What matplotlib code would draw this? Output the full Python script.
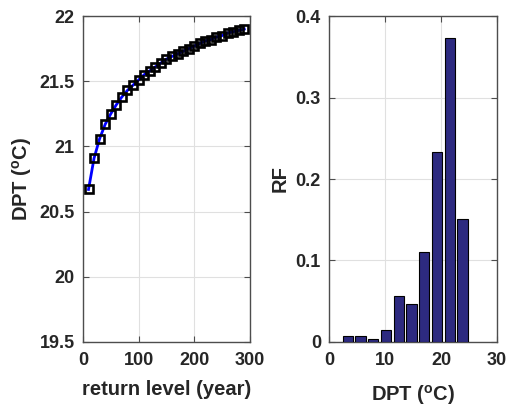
import matplotlib
matplotlib.use("Agg")
import matplotlib.pyplot as plt

# Left panel: return level curve
return_period = [10, 20, 30, 40, 50, 60, 70, 80, 90, 100, 110, 120, 130, 140, 150,
                 160, 170, 180, 190, 200, 210, 220, 230, 240, 250, 260, 270, 280, 290]
dpt_return = [20.67, 20.91, 21.06, 21.17, 21.25, 21.32, 21.38, 21.43, 21.47, 21.51,
              21.55, 21.58, 21.61, 21.64, 21.67, 21.69, 21.71, 21.73, 21.75, 21.77,
              21.79, 21.81, 21.82, 21.84, 21.85, 21.87, 21.88, 21.89, 21.90]

# Right panel: histogram of DPT (relative frequency)
bin_centers = [3.30, 5.58, 7.86, 10.14, 12.42, 14.70, 16.98, 19.26, 21.54, 23.82]
rel_freq = [0.0079, 0.0079, 0.0042, 0.0144, 0.057, 0.0466, 0.110, 0.233, 0.373, 0.151]

left_xticks = [0, 100, 200, 300]
left_yticks = [19.5, 20, 20.5, 21, 21.5, 22]
left_yticklabels = ['19.5', '20', '20.5', '21', '21.5', '22']
right_xticks = [0, 10, 20, 30]
right_yticks = [0, 0.1, 0.2, 0.3, 0.4]
right_yticklabels = ['0', '0.1', '0.2', '0.3', '0.4']

plt.rcParams['font.family'] = ['Liberation Sans', 'DejaVu Sans']
plt.rcParams['font.weight'] = 'bold'
plt.rcParams['mathtext.fontset'] = 'custom'
plt.rcParams['mathtext.rm'] = 'Liberation Sans:bold'
plt.rcParams['mathtext.bf'] = 'Liberation Sans:bold'
plt.rcParams['mathtext.default'] = 'bf'

txt = '#262626'
spine = '#4d4d4d'
tick_fs = 13
label_fs = 14.5

fig = plt.figure(figsize=(5.12, 4.12), dpi=100)
ax1 = fig.add_axes([0.162, 0.170, 0.326, 0.791])
ax2 = fig.add_axes([0.643, 0.170, 0.328, 0.791])

ax1.plot(return_period, dpt_return, color='#0000ff', lw=2, marker='s',
         markersize=6, markerfacecolor='none', markeredgecolor='black',
         markeredgewidth=1.9, zorder=3)
ax1.set_xlim(0, 300)
ax1.set_ylim(19.5, 22)
ax1.set_xticks(left_xticks)
ax1.set_yticks(left_yticks)
ax1.set_yticklabels(left_yticklabels)
ax1.set_xlabel('return level (year)', fontsize=label_fs, fontweight='bold',
               color=txt, labelpad=8)
ax1.set_ylabel(r'DPT ($^{o}$C)', fontsize=label_fs, fontweight='bold', color=txt)

ax2.bar(bin_centers, rel_freq, width=0.8 * 2.28, color='#2d2a80',
        edgecolor='black', linewidth=0.8, zorder=3)
ax2.set_xlim(0, 30)
ax2.set_ylim(0, 0.4)
ax2.set_xticks(right_xticks)
ax2.set_yticks(right_yticks)
ax2.set_yticklabels(right_yticklabels)
ax2.set_xlabel(r'DPT ($^{o}$C)', fontsize=label_fs, fontweight='bold',
               color=txt, labelpad=10)
ax2.set_ylabel('RF', fontsize=label_fs, fontweight='bold', color=txt)

for ax in (ax1, ax2):
    ax.grid(True, color='#e0e0e0', lw=0.8, zorder=0)
    ax.set_axisbelow(True)
    for s in ax.spines.values():
        s.set_color(spine)
        s.set_linewidth(1.0)
    ax.tick_params(direction='in', length=4, width=0.8, color=spine,
                   labelsize=tick_fs, labelcolor=txt, top=True, right=True)
    ax.tick_params(axis='x', pad=7)
    ax.tick_params(axis='y', pad=6)
    for lab in ax.get_xticklabels() + ax.get_yticklabels():
        lab.set_fontweight('bold')

fig.savefig('out.png', dpi=100, facecolor='white')
